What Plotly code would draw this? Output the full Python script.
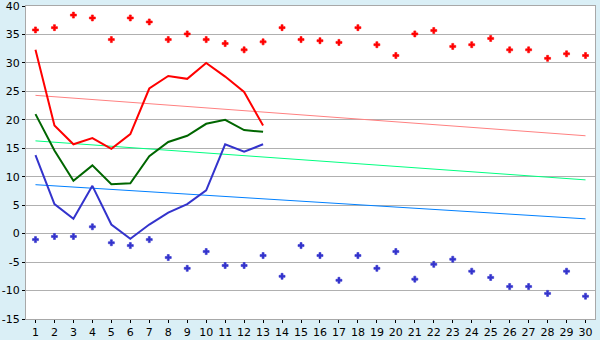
import plotly.graph_objects as go

days = list(range(1, 31))
tick_labels = [str(d) for d in days]

record_max = [35.8, 36.2, 38.4, 37.9, 34.1, 37.9, 37.2, 34.1, 35.1, 34.1,
              33.4, 32.3, 33.7, 36.2, 34.1, 33.9, 33.6, 36.2, 33.2, 31.3,
              35.1, 35.7, 32.9, 33.2, 34.3, 32.3, 32.3, 30.8, 31.6, 31.3]
record_min = [-1.05, -0.5, -0.5, 1.2, -1.6, -2.1, -1.05, -4.2, -6.1, -3.15,
              -5.6, -5.6, -3.85, -7.5, -2.1, -3.85, -8.2, -3.85, -6.1, -3.15,
              -8.0, -5.4, -4.5, -6.6, -7.7, -9.3, -9.3, -10.5, -6.6, -11.0]

obs_days = list(range(1, 14))
obs_max = [32.3, 19.0, 15.7, 16.8, 14.9, 17.5, 25.5, 27.7, 27.2, 30.0, 27.6, 24.9, 19.0]
obs_mean = [21.0, 14.6, 9.3, 12.0, 8.7, 8.85, 13.6, 16.1, 17.2, 19.3, 20.0, 18.2, 17.9]
obs_min = [13.8, 5.2, 2.6, 8.4, 1.6, -0.9, 1.6, 3.7, 5.2, 7.6, 15.7, 14.4, 15.7]

trend_days = [1, 30]
normal_max = [24.3, 17.2]
normal_mean = [16.3, 9.45]
normal_min = [8.6, 2.6]

y_ticks = [-15, -10, -5, 0, 5, 10, 15, 20, 25, 30, 35, 40]

fig = go.Figure()

fig.add_trace(go.Scatter(x=trend_days, y=normal_max, mode="lines",
                         line=dict(color="#FF8080", width=1)))
fig.add_trace(go.Scatter(x=trend_days, y=normal_mean, mode="lines",
                         line=dict(color="#00FF80", width=1)))
fig.add_trace(go.Scatter(x=trend_days, y=normal_min, mode="lines",
                         line=dict(color="#0080FF", width=1)))

fig.add_trace(go.Scatter(x=obs_days, y=obs_max, mode="lines",
                         line=dict(color="#FF0000", width=2)))
fig.add_trace(go.Scatter(x=obs_days, y=obs_mean, mode="lines",
                         line=dict(color="#006600", width=2)))
fig.add_trace(go.Scatter(x=obs_days, y=obs_min, mode="lines",
                         line=dict(color="#3333CC", width=2)))

fig.add_trace(go.Scatter(x=days, y=record_max, mode="markers",
                         marker=dict(symbol="cross", size=5, color="#FF0000",
                                     line=dict(width=0.6, color="#FF0000"))))
fig.add_trace(go.Scatter(x=days, y=record_min, mode="markers",
                         marker=dict(symbol="cross", size=5, color="#3333CC",
                                     line=dict(width=0.6, color="#3333CC"))))

fig.update_layout(
    width=600, height=340,
    margin=dict(l=26, r=5, t=6, b=21),
    paper_bgcolor="#DAEFF6",
    plot_bgcolor="#FFFFFF",
    showlegend=False,
    font=dict(family="DejaVu Sans", size=11, color="#000000"),
)
fig.update_xaxes(
    range=[0.5, 30.5], tickmode="array", tickvals=days, ticktext=tick_labels,
    showgrid=False, zeroline=False, showline=True, linecolor="#A8A8A8",
    linewidth=1, mirror=True, ticks="outside", ticklen=3, tickcolor="#000000",
    tickfont=dict(size=11), automargin=False, ticklabeloverflow="allow",
)
fig.update_yaxes(
    range=[-15, 40], tickmode="array", tickvals=y_ticks,
    ticktext=[str(v) for v in y_ticks],
    showgrid=True, gridcolor="#B0B0B0", gridwidth=1, zeroline=False,
    showline=True, linecolor="#A8A8A8", linewidth=1, mirror=True,
    ticks="outside", ticklen=3, tickcolor="#000000", tickfont=dict(size=11),
    automargin=False, ticklabeloverflow="allow",
)

fig.write_html("out.html")
